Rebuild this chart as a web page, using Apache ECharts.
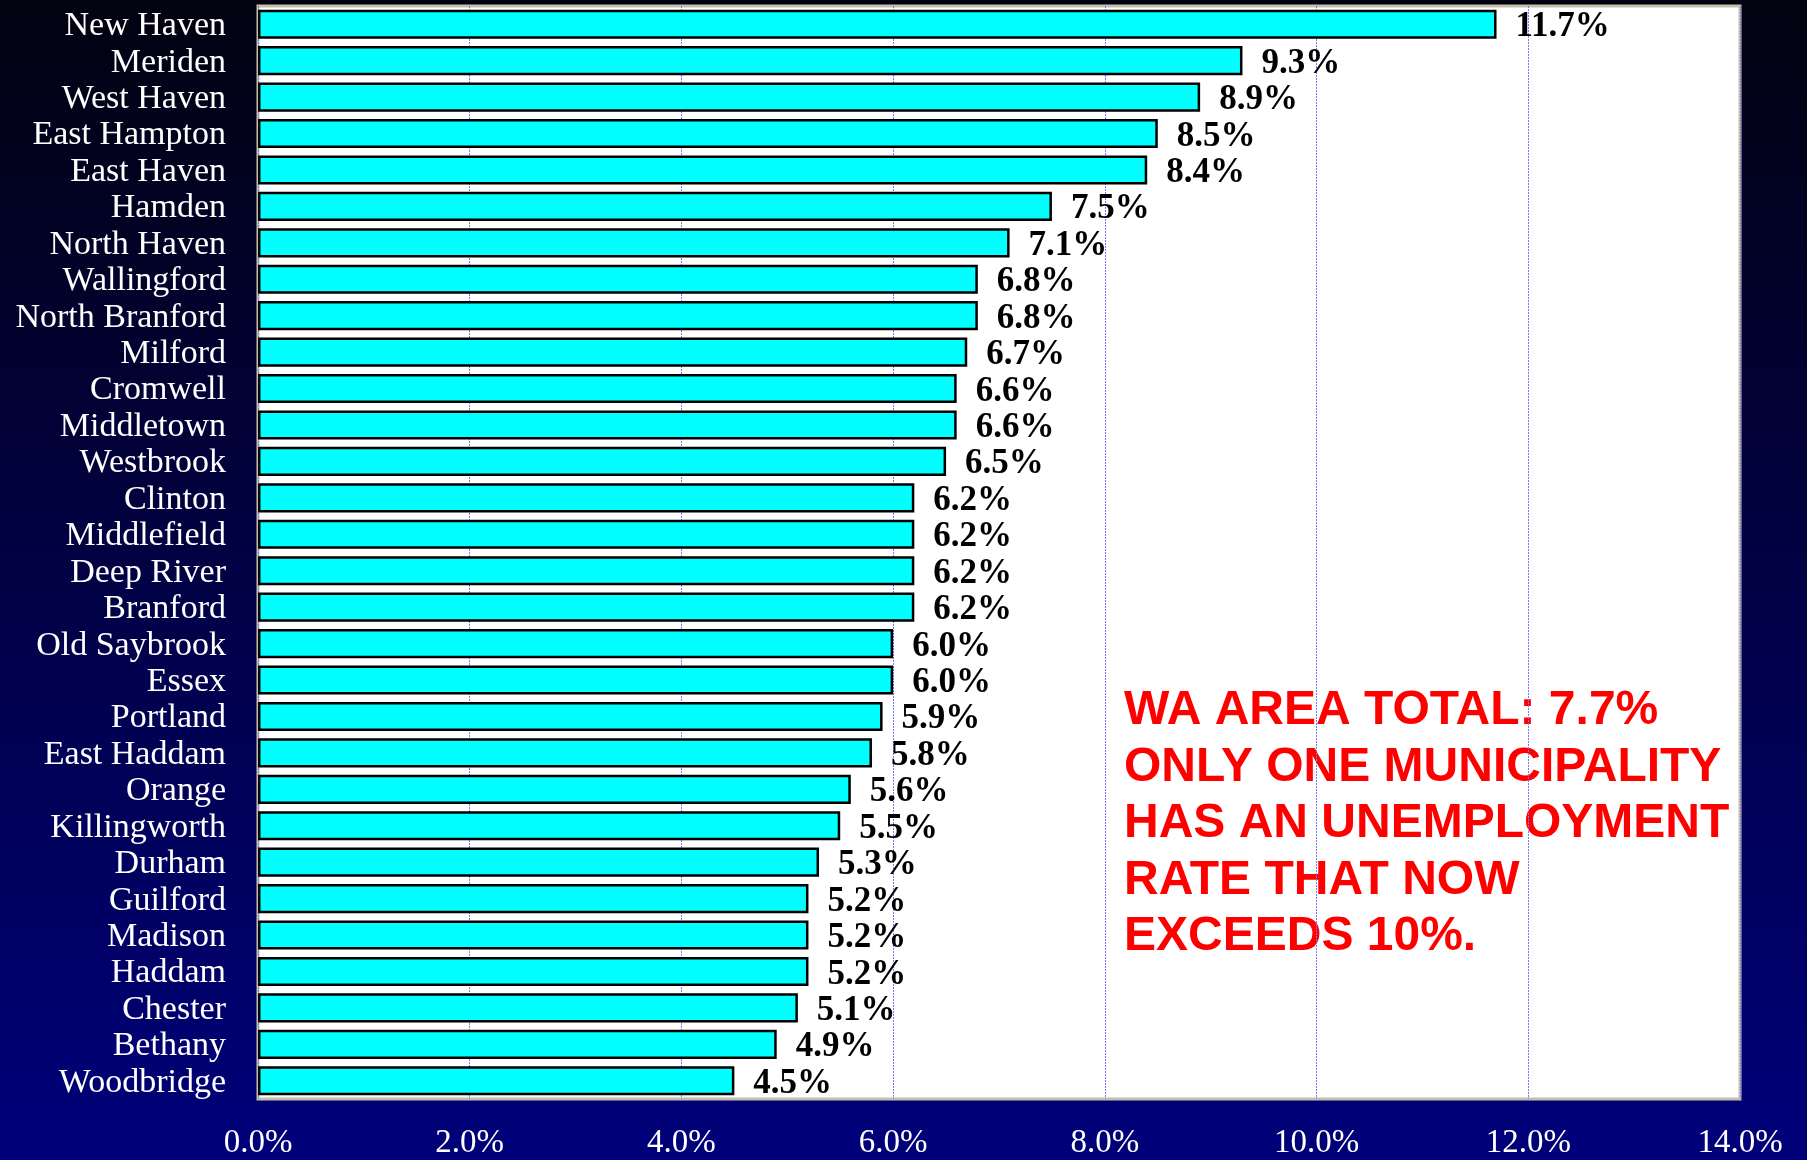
<!DOCTYPE html>
<html>
<head>
<meta charset="utf-8">
<title>Unemployment rate by municipality</title>
<script src="https://cdn.jsdelivr.net/npm/echarts@6/dist/echarts.min.js"></script>
<style>
  html, body { margin: 0; padding: 0; }
  #chart { width: 1807px; height: 1160px; }
</style>
</head>
<body>
<div id="chart"></div>
<script>
// towns, top to bottom
var towns = ['New Haven', 'Meriden', 'West Haven', 'East Hampton', 'East Haven', 'Hamden',
  'North Haven', 'Wallingford', 'North Branford', 'Milford', 'Cromwell', 'Middletown',
  'Westbrook', 'Clinton', 'Middlefield', 'Deep River', 'Branford', 'Old Saybrook', 'Essex',
  'Portland', 'East Haddam', 'Orange', 'Killingworth', 'Durham', 'Guilford', 'Madison',
  'Haddam', 'Chester', 'Bethany', 'Woodbridge'];
// unemployment rate, %
var rates = [11.7, 9.3, 8.9, 8.5, 8.4, 7.5, 7.1, 6.8, 6.8, 6.7, 6.6, 6.6, 6.5, 6.2, 6.2,
  6.2, 6.2, 6.0, 6.0, 5.9, 5.8, 5.6, 5.5, 5.3, 5.2, 5.2, 5.2, 5.1, 4.9, 4.5];
var noteLines = ['WA AREA TOTAL: 7.7%', 'ONLY ONE MUNICIPALITY', 'HAS AN UNEMPLOYMENT',
  'RATE THAT NOW', 'EXCEEDS 10%.'];

var myChart = echarts.init(document.getElementById('chart'));
var option = {
  backgroundColor: {
    type: 'linear', x: 0, y: 0, x2: 0, y2: 1,
    colorStops: [
      { offset: 0, color: '#020210' },
      { offset: 1, color: '#00007a' }
    ]
  },
  animation: false,
  grid: {
    left: 258, right: 67, top: 6, bottom: 59,
    show: true,
    backgroundColor: '#ffffff',
    borderColor: '#c4c0ac',
    borderWidth: 3
  },
  xAxis: {
    type: 'value',
    min: 0, max: 14, interval: 2,
    axisLine: { show: false },
    axisTick: { show: false },
    axisLabel: {
      color: '#ffffff',
      fontFamily: 'Liberation Serif',
      fontSize: 33,
      margin: 28,
      formatter: function (v) { return v.toFixed(1) + '%'; }
    },
    splitLine: {
      show: true,
      lineStyle: { color: '#7878ff', width: 1, type: [2, 1] }
    }
  },
  yAxis: {
    type: 'category',
    inverse: true,
    data: towns,
    axisLine: { show: false },
    axisTick: { show: false },
    axisLabel: {
      interval: 0,
      color: '#ffffff',
      fontFamily: 'Liberation Serif',
      fontSize: 34,
      margin: 32,
      lineHeight: 34,
      verticalAlign: 'top',
      padding: [-15, 0, 0, 0]
    }
  },
  series: [
    {
      type: 'bar',
      data: rates,
      barCategoryGap: '20%',
      itemStyle: {
        color: '#00ffff',
        borderColor: '#000000',
        borderWidth: 2.5
      },
      label: {
        show: true,
        position: 'right',
        distance: 19,
        offset: [0, 3],
        color: '#000000',
        fontFamily: 'Liberation Serif',
        fontWeight: 'bold',
        fontSize: 35,
        formatter: function (p) { return p.value.toFixed(1) + '%'; }
      }
    }
  ],
  graphic: [
    {
      type: 'text',
      left: 1124,
      top: 683,
      style: {
        text: noteLines.join('\n'),
        fill: '#ff0000',
        font: 'bold 48px "Liberation Sans"',
        lineHeight: 56.5
      }
    }
  ]
};
option && myChart.setOption(option);
</script>
</body>
</html>
